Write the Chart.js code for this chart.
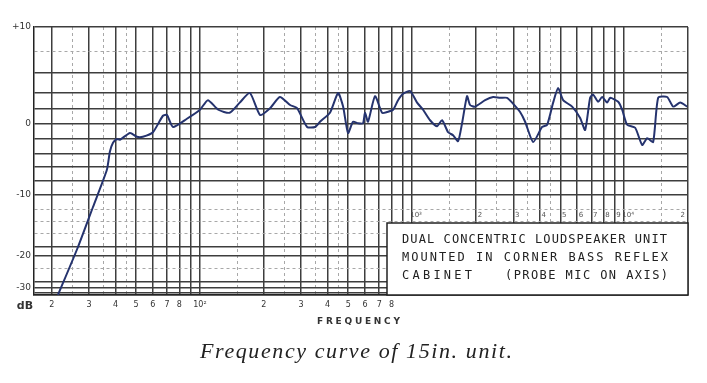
<!DOCTYPE html>
<html>
<head>
<meta charset="utf-8">
<script src="https://cdn.jsdelivr.net/npm/chart.js@4.4.1/dist/chart.umd.min.js"></script>
<style>
  html, body { margin: 0; padding: 0; background: #fff; }
</style>
</head>
<body>
<canvas id="curve" width="707" height="383"></canvas>
<script>
// response curve (Hz / dB)
const freqHz = [21.4, 26.6, 31.3, 36.4, 37.6, 38.9, 40.6, 41.9, 46.8, 50.4, 53.8, 60.0, 66.9, 69.9, 74.6, 86.8,
  100, 109, 122, 138, 154, 172, 192, 214, 238, 266, 287, 320, 349, 368, 410, 448, 473, 499, 527, 556, 587, 600,
  620, 669, 722, 762, 814, 859, 907, 979, 1056, 1127, 1216, 1312, 1385, 1479, 1561, 1648, 1721, 1817, 1877, 1983,
  2210, 2411, 2601, 2806, 2963, 3231, 3412, 3723, 4105, 4334, 4626, 4884, 5157, 5685, 6202, 6546, 6911, 7141,
  7540, 7874, 8314, 8591, 9370, 9786, 10330, 11270, 12160, 12840, 13700, 14470, 15950, 17030, 18380, 19830];
const levelDb = [-33, -18.0, -11.6, -6.4, -3.7, -2.5, -2.0, -2.1, -1.2, -1.7, -1.7, -1.1, 1.1, 1.2, -0.4, 0.7,
  1.9, 3.1, 1.9, 1.5, 2.8, 4.0, 1.2, 2.1, 3.5, 2.5, 2.1, -0.4, -0.4, 0.3, 1.5, 4.0, 2.3, -1.2, 0.3, 0.1, 0.1, 1.5,
  0.3, 3.6, 1.5, 1.6, 1.9, 3.1, 3.9, 4.2, 2.8, 1.9, 0.5, -0.3, 0.5, -1.1, -1.5, -2.3, 0.1, 3.6, 2.5, 2.3,
  3.1, 3.5, 3.4, 3.4, 2.8, 1.6, 0.3, -2.4, -0.4, -0.1, 2.8, 4.5, 3.1, 2.3, 0.8, -0.8, 3.4, 3.8,
  2.9, 3.5, 2.8, 3.4, 2.9, 1.9, -0.1, -0.5, -2.8, -1.9, -2.4, 3.4, 3.5, 2.3, 2.8, 2.3];

// frequency rulings and labels
const gridHz = [20, 30, 40, 50, 60, 70, 80, 90, 100, 200, 300, 400, 500, 600, 700, 800, 900,
  1000, 2000, 3000, 4000, 5000, 6000, 7000, 8000, 9000, 10000, 20000];
const minorHz = [25, 35, 45, 150, 250, 350, 450, 1500, 2500, 3500, 4500, 15000];
const bottomTicks = [20, 30, 40, 50, 60, 70, 80, 100, 200, 300, 400, 500, 600, 700, 800];
const bottomLabels = ['2', '3', '4', '5', '6', '7', '8', '10²', '2', '3', '4', '5', '6', '7', '8'];
const insetTicks = [1000, 2000, 3000, 4000, 5000, 6000, 7000, 8000, 9000, 10000, 20000];
const insetLabels = ['10³', '2', '3', '4', '5', '6', '7', '8', '9', '10⁴', '2'];

// level rulings of the chart paper (not evenly spaced)
const paperDb = [10, 8, 6, 4, 2, 0, -2, -4, -6, -8, -10, -12, -14, -16, -18, -20, -24, -28, -30, -32, -33];
const paperFrac = [1, 0.9104, 0.8284, 0.7537, 0.694, 0.6381, 0.5821, 0.5261, 0.4776, 0.4254, 0.3731,
  0.3172, 0.2724, 0.2313, 0.1791, 0.1455, 0.1007, 0.0485, 0.0261, 0.0075, 0];
const dbLabels = [10, 0, -10, -20, -30];
const dashedDb = [8, -12, -14, -16, -24];

const noteLines = ['DUAL CONCENTRIC LOUDSPEAKER UNIT', 'MOUNTED IN CORNER BASS REFLEX'];
const noteLast = ['CABINET', '(PROBE MIC ON AXIS)'];

function paperDecimal(v) {
  let i = 0;
  while (i < paperDb.length - 2 && v < paperDb[i + 1]) i++;
  const a = paperDb[i], b = paperDb[i + 1];
  return paperFrac[i] + (v - a) / (b - a) * (paperFrac[i + 1] - paperFrac[i]);
}

function paperValue(d) {
  let i = 0;
  while (i < paperFrac.length - 2 && d < paperFrac[i + 1]) i++;
  const a = paperFrac[i], b = paperFrac[i + 1];
  return paperDb[i] + (d - a) / (b - a) * (paperDb[i + 1] - paperDb[i]);
}

// linear scale with the chart paper's uneven dB spacing
class PaperScale extends Chart.LinearScale {
  getPixelForValue(value) {
    if (value === null || value === undefined || isNaN(value)) return NaN;
    return this.getPixelForDecimal(paperDecimal(value));
  }
  getValueForPixel(pixel) {
    return paperValue(this.getDecimalForPixel(pixel));
  }
}
PaperScale.id = 'paper';
PaperScale.defaults = Chart.LinearScale.defaults;
Chart.register(PaperScale);

function spreadText(ctx, text, x0, x1, y) {
  ctx.letterSpacing = '0px';
  const w = ctx.measureText(text).width;
  const gap = text.length > 1 ? (x1 - x0 - w) / (text.length - 1) : 0;
  ctx.letterSpacing = gap.toFixed(2) + 'px';
  ctx.textAlign = 'left';
  ctx.fillText(text, x0, y);
  ctx.letterSpacing = '0px';
}

const paperNotes = {
  id: 'paperNotes',
  afterDraw(chart) {
    const ctx = chart.ctx;
    const area = chart.chartArea;
    const xs = chart.scales.x;
    ctx.save();

    // note box in the lower right
    const bx = 387, by = 223;
    ctx.fillStyle = '#fff';
    ctx.fillRect(bx, by, area.right - bx, area.bottom - by);
    ctx.strokeStyle = '#222';
    ctx.lineWidth = 1.5;
    ctx.strokeRect(bx, by, area.right - bx, area.bottom - by);

    ctx.fillStyle = '#222';
    ctx.font = '12px "DejaVu Sans Mono"';
    ctx.textBaseline = 'middle';
    spreadText(ctx, noteLines[0], 402, 667, 240);
    spreadText(ctx, noteLines[1], 402, 668, 258);
    spreadText(ctx, noteLast[0], 402, 472, 276);
    spreadText(ctx, noteLast[1], 505, 668, 276);

    // small frequency figures above the box
    ctx.font = '7px "DejaVu Sans"';
    ctx.fillStyle = '#555';
    insetTicks.forEach((f, i) => {
      const x = xs.getPixelForValue(f);
      ctx.textAlign = i === insetTicks.length - 1 ? 'right' : 'center';
      ctx.fillText(insetLabels[i], i === insetTicks.length - 1 ? x - 3 : x + 4, 215);
    });

    // axis words and caption
    ctx.fillStyle = '#333';
    ctx.font = 'bold 11px "DejaVu Sans"';
    ctx.textAlign = 'center';
    ctx.fillText('dB', 25, 306);
    ctx.font = 'bold 9px "DejaVu Sans"';
    spreadText(ctx, 'FREQUENCY', 317, 400, 322);

    ctx.fillStyle = '#222';
    ctx.font = 'italic 22px "Liberation Serif"';
    ctx.textBaseline = 'alphabetic';
    spreadText(ctx, 'Frequency curve of 15in. unit.', 200, 512, 358);
    ctx.restore();
  }
};

const allHz = gridHz.concat(minorHz).sort((a, b) => a - b);

new Chart(document.getElementById('curve'), {
  type: 'line',
  data: {
    datasets: [{
      data: freqHz.map((f, i) => ({ x: f, y: levelDb[i] })),
      borderColor: '#25336e',
      borderWidth: 2,
      pointRadius: 0,
      tension: 0.2,
      fill: false
    }]
  },
  options: {
    responsive: false,
    animation: false,
    layout: { padding: { top: 27, right: 19, left: 0, bottom: 0 } },
    plugins: { legend: { display: false }, tooltip: { enabled: false } },
    scales: {
      x: {
        type: 'logarithmic',
        min: 16.5,
        max: 20000,
        bounds: 'data',
        afterBuildTicks: s => { s.ticks = allHz.map(v => ({ value: v })); },
        afterFit: s => { s.height = 88; },
        grid: {
          drawTicks: false,
          color: c => c.tick && minorHz.includes(c.tick.value) ? '#a8a8a8' : '#3e3e3e',
          lineWidth: c => c.tick && minorHz.includes(c.tick.value) ? 1 : 1.5
        },
        border: {
          color: '#222',
          width: 1.5,
          dash: c => c.tick && minorHz.includes(c.tick.value) ? [3, 3] : []
        },
        ticks: {
          autoSkip: false,
          maxRotation: 0,
          padding: 5,
          color: '#333',
          font: { family: 'DejaVu Sans', size: 8 },
          callback: v => {
            const i = bottomTicks.indexOf(v);
            return i >= 0 ? bottomLabels[i] : '';
          }
        }
      },
      y: {
        type: 'paper',
        min: -33,
        max: 10,
        bounds: 'data',
        afterBuildTicks: s => { s.ticks = paperDb.map(v => ({ value: v })); },
        afterFit: s => { s.width = 34; },
        grid: {
          drawTicks: false,
          color: c => c.tick && dashedDb.includes(c.tick.value) ? '#a8a8a8' : '#3e3e3e',
          lineWidth: c => c.tick && dashedDb.includes(c.tick.value) ? 1 : 1.5
        },
        border: {
          color: '#222',
          width: 1.5,
          dash: c => c.tick && dashedDb.includes(c.tick.value) ? [3, 3] : []
        },
        ticks: {
          autoSkip: false,
          padding: 3,
          color: '#333',
          font: { family: 'DejaVu Sans', size: 9 },
          callback: v => dbLabels.includes(v) ? (v > 0 ? '+' + v : String(v)) : ''
        }
      }
    }
  },
  plugins: [paperNotes]
});
</script>
</body>
</html>
